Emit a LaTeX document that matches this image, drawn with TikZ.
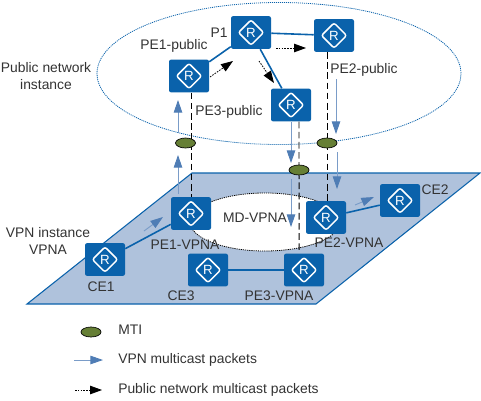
\documentclass[tikz,border=0pt]{standalone}
\usepackage{fontspec}
\setmainfont{Liberation Sans}
\usetikzlibrary{arrows.meta,calc,shapes.geometric}
\definecolor{routerblue}{HTML}{0A62AB}
\definecolor{linkblue}{HTML}{0A62AB}
\definecolor{planefill}{HTML}{AFC2DC}
\definecolor{arrowblue}{HTML}{4F7DB5}
\definecolor{shaftblue}{HTML}{7A9CC8}
\definecolor{mtigreen}{HTML}{667F35}
\definecolor{txt}{HTML}{333333}
\tikzset{
  router/.style={rectangle,rounded corners=1.6pt,fill=routerblue,minimum width=30pt,minimum height=24.6pt,inner sep=0pt,
    text=white,font=\fontsize{10}{11}\selectfont,
    path picture={\draw[white,line width=1.1pt] ($(path picture bounding box.center)+(-9.4pt,0)$) -- ($(path picture bounding box.center)+(0,9.4pt)$) -- ($(path picture bounding box.center)+(9.4pt,0)$) -- ($(path picture bounding box.center)+(0,-9.4pt)$) -- cycle;}},
  link/.style={draw=linkblue,line width=1.2pt},
  tunnel/.style={draw=black,dash pattern=on 5pt off 2.6pt,line width=0.7pt},
  vpnarrow/.style={draw=shaftblue,line width=0.7pt,-{Triangle[length=9.5pt,width=6.4pt,color=arrowblue]}},
  pubarrow/.style={draw=black,dash pattern=on 1.2pt off 0.9pt,line width=0.6pt,-{Triangle[length=9pt,width=6.4pt,fill=black]}},
  mti/.style={ellipse,draw=black,line width=0.5pt,fill=mtigreen,minimum width=15pt,minimum height=7.5pt,inner sep=0pt},
  lab/.style={text=txt,font=\fontsize{10.4}{12.75}\selectfont,inner sep=0pt,align=center},
  leftlab/.style={lab,anchor=west}
}
\begin{document}
\begin{tikzpicture}[x=0.75pt,y=-0.75pt]
\useasboundingbox (0,0) rectangle (481,400);
% plane
\path[fill=planefill] (192,173) -- (480,173) -- (316,304) -- (27,304) -- cycle;
\draw[linkblue,line width=0.8pt] (27,304) -- (192,173) -- (480,173) -- (316,304) -- cycle;
% ellipses
\draw[linkblue,dash pattern=on 0.8pt off 0.7pt,line width=0.6pt] (279,73.5) ellipse [x radius=182,y radius=71];
\draw[black,fill=white,dash pattern=on 0.9pt off 0.7pt,line width=0.6pt] (265,222) ellipse [x radius=75,y radius=29];
% routers
\node[router] (pe1pub) at (189,76) {R};
\node[router] (p1) at (251,32.5) {R};
\node[router] (pe2pub) at (334,35.5) {R};
\node[router] (pe3pub) at (291,105) {R};
\node[router] (pe1vpn) at (191,213.5) {R};
\node[router] (ce1) at (105,259.5) {R};
\node[router] (ce3) at (208,270) {R};
\node[router] (pe3vpn) at (304,270) {R};
\node[router] (pe2vpn) at (326,217.5) {R};
\node[router] (ce2) at (400,200.5) {R};
% links
\draw[link] (pe1pub) -- (p1);
\draw[link] (p1) -- (pe2pub);
\draw[link] (p1) -- (pe3pub);
\draw[link] (ce1) -- (pe1vpn);
\draw[link] (ce3) -- (pe3vpn);
\draw[link] (pe2vpn) -- (ce2);
% tunnels
\draw[tunnel] ([xshift=1.5pt]pe1pub.south) -- ([xshift=0pt]pe1vpn.north);
\draw[tunnel] ([xshift=-5.2pt]pe2pub.south) -- ([xshift=0.8pt]pe2vpn.north);
\draw[tunnel] ([xshift=6pt]pe3pub.south) -- ([xshift=-3.7pt]pe3vpn.north);
% MTIs
\node[mti] (m1) at (185.5,143) {};
\node[mti] (m2) at (327,143) {};
\node[mti] (m3) at (299,170) {};
% VPN packet arrows
\coordinate (a1s) at (178,133); \coordinate (a1e) at (178,100);
\coordinate (a2s) at (178,194); \coordinate (a2e) at (178,155);
\coordinate (a3s) at (291,122); \coordinate (a3e) at (291,163);
\coordinate (a4s) at (291,179); \coordinate (a4e) at (291,227);
\coordinate (a5s) at (336,79);  \coordinate (a5e) at (336,134);
\coordinate (a6s) at (337,152); \coordinate (a6e) at (337,189);
\coordinate (a7s) at (144,231); \coordinate (a7e) at (163,217);
\coordinate (a8s) at (355,205); \coordinate (a8e) at (374,197);
\foreach \n in {1,...,8}{\draw[vpnarrow] (a\n s) -- (a\n e);}
% public packet arrows
\coordinate (b1s) at (210,77); \coordinate (b1e) at (233,61);
\coordinate (b2s) at (276,48); \coordinate (b2e) at (306,48);
\coordinate (b3s) at (259,61); \coordinate (b3e) at (274,83);
\foreach \n in {1,2,3}{\draw[pubarrow] (b\n s) -- (b\n e);}
% labels
\node[lab] (l1) at (219,33) {P1};
\node[lab] (l2) at (174,46) {PE1-public};
\node[lab] (l3) at (364,70) {PE2-public};
\node[lab] (l4) at (229,112) {PE3-public};
\node[lab] (l5) at (185,245) {PE1-VPNA};
\node[lab] (l6) at (101,287) {CE1};
\node[lab] (l7) at (181,296) {CE3};
\node[lab] (l8) at (279,296) {PE3-VPNA};
\node[lab] (l9) at (349,243) {PE2-VPNA};
\node[lab] (l10) at (435,190) {CE2};
\node[lab] (l11) at (255,218) {MD-VPNA};
\node[lab] (l12) at (48,240.5) {VPN instance\\VPNA};
\node[lab] (l13) at (46,76.5) {Public network\\instance};
% legend
\node[mti] (legm) at (91,332) {};
\coordinate (lv1) at (74,360); \coordinate (lv2) at (103,360);
\coordinate (lp1) at (75,390); \coordinate (lp2) at (102,390);
\draw[vpnarrow] (lv1) -- (lv2);
\draw[pubarrow] (lp1) -- (lp2);
\node[leftlab] (t1) at (118,330) {MTI};
\node[leftlab] (t2) at (118,360) {VPN multicast packets};
\node[leftlab] (t3) at (118,390) {Public network multicast packets};
\end{tikzpicture}
\end{document}
